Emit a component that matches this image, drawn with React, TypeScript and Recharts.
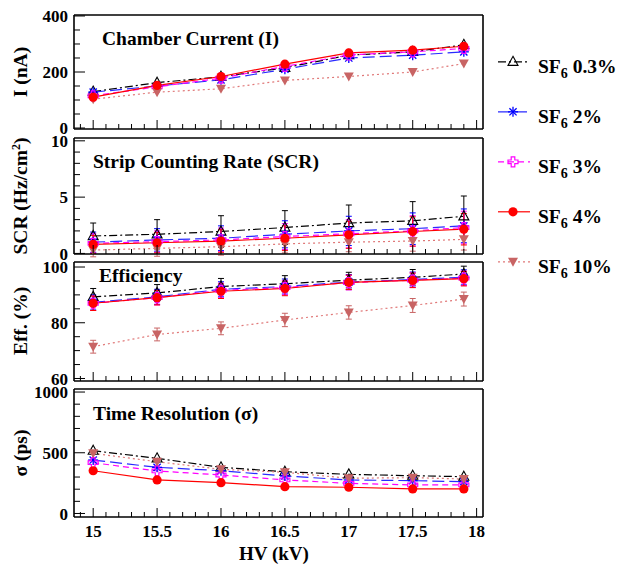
import React from 'react';
import { LineChart, Line, XAxis, YAxis, ErrorBar } from 'recharts';

// ---------- data ----------
const hv = [15, 15.5, 16, 16.5, 17, 17.5, 17.9];

const current03 = [130, 162, 183, 215, 260, 272, 297];
const current2 = [128, 150, 172, 210, 250, 260, 272];
const current3 = [115, 147, 178, 220, 261, 272, 284];
const current4 = [110, 152, 184, 228, 268, 278, 292];
const current10 = [103, 128, 140, 170, 184, 200, 230];

const scr03 = [1.55, 1.7, 1.95, 2.3, 2.7, 2.9, 3.3];
const scr2 = [1.0, 1.2, 1.35, 1.7, 2.0, 2.2, 2.45];
const scr3 = [0.9, 1.05, 1.2, 1.5, 1.75, 2.0, 2.3];
const scr4 = [0.8, 0.95, 1.1, 1.35, 1.65, 1.95, 2.15];
const scr10 = [0.3, 0.45, 0.6, 0.85, 1.0, 1.1, 1.25];
const scrErr03 = [1.15, 1.3, 1.4, 1.5, 1.6, 1.7, 1.8];
const scrErr2 = [0.9, 1.0, 1.1, 1.2, 1.3, 1.4, 1.5];
const scrErr3 = [0.85, 0.95, 1.05, 1.15, 1.25, 1.35, 1.45];
const scrErr4 = [0.8, 0.9, 1.0, 1.1, 1.2, 1.3, 1.4];
const scrErr10 = [0.6, 0.7, 0.75, 0.8, 0.85, 0.9, 0.95];

const eff03 = [89.3, 90.7, 93.0, 94.0, 95.3, 96.3, 97.5];
const eff2 = [87.3, 89.3, 92.0, 93.0, 94.6, 95.5, 96.3];
const eff3 = [87.0, 89.0, 91.6, 92.6, 94.4, 95.3, 96.0];
const eff4 = [87.0, 89.0, 91.3, 92.3, 94.5, 95.2, 95.8];
const eff10 = [71.4, 75.8, 78.0, 81.0, 83.7, 86.2, 88.5];
const effErr03 = [3.0, 3.0, 2.9, 2.9, 2.8, 2.8, 2.8];
const effErr2 = [2.7, 2.7, 2.7, 2.7, 2.7, 2.7, 2.7];
const effErr3 = [2.6, 2.6, 2.6, 2.6, 2.6, 2.6, 2.6];
const effErr4 = [2.6, 2.6, 2.6, 2.6, 2.6, 2.6, 2.6];
const effErr10 = [2.3, 2.3, 2.3, 2.4, 2.4, 2.5, 2.5];

const time03 = [517, 454, 380, 344, 322, 311, 303];
const time2 = [440, 380, 352, 309, 276, 270, 262];
const time3 = [418, 350, 317, 276, 248, 235, 235];
const time4 = [352, 276, 254, 221, 216, 202, 202];
const time10 = [495, 426, 364, 339, 290, 295, 284];

const hvTicks = [14.9, 15, 15.1, 15.2, 15.3, 15.4, 15.5, 15.6, 15.7, 15.8, 15.9, 16, 16.1, 16.2, 16.3, 16.4, 16.5, 16.6, 16.7, 16.8, 16.9, 17, 17.1, 17.2, 17.3, 17.4, 17.5, 17.6, 17.7, 17.8, 17.9, 18];
const currentTicks = [0, 50, 100, 150, 200, 250, 300, 350, 400];
const currentLabels = [0, 200, 400];
const scrTicks = [0, 1, 2, 3, 4, 5, 6, 7, 8, 9, 10];
const scrLabels = [0, 5, 10];
const effTicks = [60, 65, 70, 75, 80, 85, 90, 95, 100];
const effLabels = [60, 80, 100];
const timeTicks = [0, 100, 200, 300, 400, 500, 600, 700, 800, 900, 1000];
const timeLabels = [0, 500, 1000];

const legendNames = ['0.3%', '2%', '3%', '4%', '10%'];

// ---------- layout / style ----------
const W = 626;
const H = 565;
const LEFT = 74;
const RIGHT = 483;
const X_DOMAIN: [number, number] = [14.85, 18.05];
const FONT = "'Liberation Serif', 'Times New Roman', serif";

type MarkerProps = { cx: number; cy: number; color: string };

const TriUp = ({ cx, cy, color }: MarkerProps) => (
  <path d={`M${cx},${cy - 5.5} L${cx + 5},${cy + 3.6} L${cx - 5},${cy + 3.6} Z`} fill="none" stroke={color} strokeWidth={1.1} />
);
const Star = ({ cx, cy, color }: MarkerProps) => (
  <g stroke={color} strokeWidth={1.3}>
    <line x1={cx - 5} y1={cy} x2={cx + 5} y2={cy} />
    <line x1={cx} y1={cy - 5} x2={cx} y2={cy + 5} />
    <line x1={cx - 3.6} y1={cy - 3.6} x2={cx + 3.6} y2={cy + 3.6} />
    <line x1={cx - 3.6} y1={cy + 3.6} x2={cx + 3.6} y2={cy - 3.6} />
  </g>
);
const OpenCross = ({ cx, cy, color }: MarkerProps) => {
  const s = 5;
  const w = 1.8;
  const d = `M${cx - w},${cy - s} L${cx + w},${cy - s} L${cx + w},${cy - w} L${cx + s},${cy - w} L${cx + s},${cy + w} L${cx + w},${cy + w} L${cx + w},${cy + s} L${cx - w},${cy + s} L${cx - w},${cy + w} L${cx - s},${cy + w} L${cx - s},${cy - w} L${cx - w},${cy - w} Z`;
  return <path d={d} fill="none" stroke={color} strokeWidth={1.2} />;
};
const Circle = ({ cx, cy, color }: MarkerProps) => <circle cx={cx} cy={cy} r={4.6} fill={color} />;
const TriDown = ({ cx, cy, color }: MarkerProps) => (
  <path d={`M${cx - 5},${cy - 4} L${cx + 5},${cy - 4} L${cx},${cy + 5} Z`} fill={color} />
);

const seriesStyles = [
  { key: 'v03', err: 'e03', color: '#000000', line: '#000000', dash: '8 3 2 3', Marker: TriUp },
  { key: 'v2', err: 'e2', color: '#0000ff', line: '#2a2aff', dash: '12 5', Marker: Star },
  { key: 'v3', err: 'e3', color: '#ff00ff', line: '#ff00ff', dash: '6 4', Marker: OpenCross },
  { key: 'v10', err: 'e10', color: '#c86464', line: '#e07878', dash: '2 3', Marker: TriDown },
  { key: 'v4', err: 'e4', color: '#ff0000', line: '#ff0000', dash: undefined as string | undefined, Marker: Circle },
];
const legendStyles = [seriesStyles[0], seriesStyles[1], seriesStyles[2], seriesStyles[4], seriesStyles[3]];

const buildRows = (vals: number[][], errs?: number[][]) =>
  hv.map((x, i) => {
    const r: any = { hv: x, v03: vals[0][i], v2: vals[1][i], v3: vals[2][i], v4: vals[3][i], v10: vals[4][i] };
    if (errs) {
      r.e03 = errs[0][i];
      r.e2 = errs[1][i];
      r.e3 = errs[2][i];
      r.e4 = errs[3][i];
      r.e10 = errs[4][i];
    }
    return r;
  });

const currentRows = buildRows([current03, current2, current3, current4, current10]);
const scrRows = buildRows([scr03, scr2, scr3, scr4, scr10], [scrErr03, scrErr2, scrErr3, scrErr4, scrErr10]);
const effRows = buildRows([eff03, eff2, eff3, eff4, eff10], [effErr03, effErr2, effErr3, effErr4, effErr10]);
const timeRows = buildRows([time03, time2, time3, time4, time10]);

const makeXTick = (showLabels: boolean) => (props: any) => {
  const { x, y, payload } = props;
  const v = payload.value as number;
  const major = Math.abs(v * 2 - Math.round(v * 2)) < 1e-6;
  return (
    <g>
      <line x1={x} x2={x} y1={y} y2={y - (major ? 9 : 5)} stroke="#000" strokeWidth={1} />
      {showLabels && major && (
        <text x={x} y={y + 19.5} textAnchor="middle" fontFamily={FONT} fontWeight="bold" fontSize={17} fill="#000">
          {String(v)}
        </text>
      )}
    </g>
  );
};

const makeYTick = (labels: number[]) => (props: any) => {
  const { x, y, payload } = props;
  const v = payload.value as number;
  const major = labels.includes(v);
  return (
    <g>
      <line x1={x} x2={x + (major ? 11 : 6)} y1={y} y2={y} stroke="#000" strokeWidth={1} />
      {major && (
        <text x={x - 6} y={y} dy="0.36em" textAnchor="end" fontFamily={FONT} fontWeight="bold" fontSize={17} fill="#000">
          {String(v)}
        </text>
      )}
    </g>
  );
};

type PanelProps = {
  rows: any[];
  top: number;
  bottom: number;
  yDomain: [number, number];
  yTicks: number[];
  yLabels: number[];
  showX: boolean;
  withErrors: boolean;
};

const frameLine = { stroke: '#000', strokeWidth: 1.6 };

function Panel({ rows, top, bottom, yDomain, yTicks, yLabels, showX, withErrors }: PanelProps) {
  return (
    <div style={{ position: 'absolute', left: 0, top: 0 }}>
      <LineChart
        width={W}
        height={H}
        data={rows}
        margin={{ top: top - 1, bottom: H - bottom - 1, left: LEFT - 1, right: W - RIGHT - 1 }}
      >
        <XAxis
          xAxisId="b"
          dataKey="hv"
          type="number"
          domain={X_DOMAIN}
          allowDataOverflow
          ticks={hvTicks}
          interval={0}
          height={1}
          tickSize={0}
          tickMargin={0}
          tickLine={false}
          axisLine={frameLine}
          tick={makeXTick(showX)}
        />
        <XAxis xAxisId="t" orientation="top" type="number" domain={[0, 1]} height={1} tick={false} tickLine={false} axisLine={frameLine} />
        <YAxis
          yAxisId="l"
          type="number"
          domain={yDomain}
          allowDataOverflow
          ticks={yTicks}
          interval={0}
          width={1}
          tickSize={0}
          tickMargin={0}
          tickLine={false}
          axisLine={frameLine}
          tick={makeYTick(yLabels)}
        />
        <YAxis yAxisId="r" orientation="right" type="number" domain={[0, 1]} width={1} tick={false} tickLine={false} axisLine={frameLine} />
        {seriesStyles.map((s) => (
          <Line
            key={s.key}
            xAxisId="b"
            yAxisId="l"
            dataKey={s.key}
            stroke={s.line}
            strokeWidth={1.2}
            strokeDasharray={s.dash}
            isAnimationActive={false}
            activeDot={false}
            dot={(p: any) => <s.Marker key={`${s.key}-${p.index}`} cx={p.cx} cy={p.cy} color={s.color} />}
          >
            {withErrors && <ErrorBar dataKey={s.err} width={3} stroke={s.color} strokeWidth={1} direction="y" />}
          </Line>
        ))}
      </LineChart>
    </div>
  );
}

const textStyle = { fontFamily: FONT, fontWeight: 'bold' as const, fill: '#000' };

function Overlay() {
  const titles = [
    { x: 102, y: 44.5, t: 'Chamber Current (I)' },
    { x: 93, y: 167.5, t: 'Strip Counting Rate (SCR)' },
    { x: 99, y: 281.5, t: 'Efficiency' },
    { x: 93, y: 420, t: 'Time Resolution (σ)' },
  ];
  const legendBase = [73.3, 123.3, 173.3, 223.3, 273.3];
  return (
    <svg width={W} height={H} style={{ position: 'absolute', left: 0, top: 0, pointerEvents: 'none' }}>
      {titles.map((t) => (
        <text key={t.t} x={t.x} y={t.y} fontSize={19.5} {...textStyle}>
          {t.t}
        </text>
      ))}
      <text transform="translate(27,72) rotate(-90)" textAnchor="middle" fontSize={19.5} {...textStyle}>I (nA)</text>
      <text transform="translate(27,196) rotate(-90)" textAnchor="middle" fontSize={19.5} {...textStyle}>
        SCR (Hz/cm<tspan fontSize={12} dy={-7}>2</tspan><tspan dy={7}>)</tspan>
      </text>
      <text transform="translate(27,321) rotate(-90)" textAnchor="middle" fontSize={19.5} {...textStyle}>Eff. (%)</text>
      <text transform="translate(27,453) rotate(-90)" textAnchor="middle" fontSize={19.5} {...textStyle}>σ (ps)</text>
      <text x={274} y={560} textAnchor="middle" fontSize={19} {...textStyle}>HV (kV)</text>
      {legendStyles.map((s, i) => {
        const by = legendBase[i];
        const my = by - 11.5;
        return (
          <g key={s.key}>
            <line x1={498} x2={530} y1={my} y2={my} stroke={s.line} strokeWidth={1.2} strokeDasharray={s.dash} />
            <s.Marker cx={513} cy={my} color={s.color} />
            <text x={538} y={by} fontSize={19.5} {...textStyle}>
              SF<tspan fontSize={14} dy={5}>6</tspan>
              <tspan dy={-5}>{' ' + legendNames[i]}</tspan>
            </text>
          </g>
        );
      })}
    </svg>
  );
}

export default function App() {
  return (
    <div style={{ position: 'absolute', left: 0, top: 0, width: W, height: H, background: '#fff', overflow: 'hidden' }}>
      <Panel rows={currentRows} top={15} bottom={129} yDomain={[-3.5, 403.5]} yTicks={currentTicks} yLabels={currentLabels} showX={false} withErrors={false} />
      <Panel rows={scrRows} top={138} bottom={254} yDomain={[-0.05, 10.25]} yTicks={scrTicks} yLabels={scrLabels} showX={false} withErrors={true} />
      <Panel rows={effRows} top={262} bottom={381} yDomain={[59.1, 101.8]} yTicks={effTicks} yLabels={effLabels} showX={false} withErrors={true} />
      <Panel rows={timeRows} top={389} bottom={517} yDomain={[-29, 1025]} yTicks={timeTicks} yLabels={timeLabels} showX={true} withErrors={false} />
      <Overlay />
    </div>
  );
}
